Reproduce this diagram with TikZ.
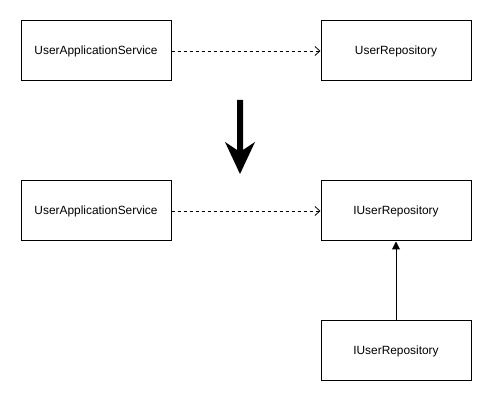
\documentclass[tikz,border=0pt]{standalone}
\usepackage{fontspec}
\setmainfont{Liberation Sans}
\usetikzlibrary{arrows.meta}
\begin{document}
\begin{tikzpicture}[x=1pt,y=-1pt,
  box/.style={draw=black,line width=1pt,minimum width=150pt,minimum height=60pt,inner sep=0pt,font=\fontsize{11.9}{14}\selectfont,anchor=north west},
  dep/.style={draw=black,line width=0.8pt,dash pattern=on 3pt off 3pt,-{Straight Barb[length=5pt,width=9pt,line width=0.8pt]}},
  gen/.style={draw=black,line width=1pt,-{Triangle[length=8pt,width=8pt]}}]
\useasboundingbox (0,0) rectangle (491,401);
\node[box] (a) at (20.5,20.5) {UserApplicationService};
\node[box] (b) at (320.5,20.5) {UserRepository};
\node[box] (c) at (20.5,180.5) {UserApplicationService};
\node[box] (d) at (320.5,180.5) {IUserRepository};
\node[box] (e) at (320.5,320.5) {IUserRepository};
\draw[dep] (a.east) -- (b.west);
\draw[dep] (c.east) -- (d.west);
\draw[gen] (e.north) -- (d.south);
\fill[black] (237,100) -- (243,100) -- (243,150) -- (255,142) -- (240,174) -- (225,142) -- (237,150) -- cycle;
\end{tikzpicture}
\end{document}
